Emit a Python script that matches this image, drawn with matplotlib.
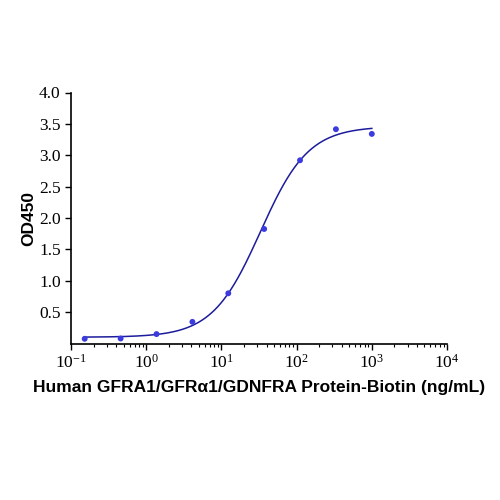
import numpy as np
import matplotlib
matplotlib.use("Agg")
import matplotlib.pyplot as plt
from matplotlib.ticker import LogLocator, FixedLocator, FormatStrFormatter

plt.rcParams['mathtext.fontset'] = 'custom'
plt.rcParams['mathtext.rm'] = 'Liberation Serif'
plt.rcParams['mathtext.it'] = 'Liberation Serif:italic'
plt.rcParams['mathtext.bf'] = 'Liberation Serif:bold'
plt.rcParams['axes.unicode_minus'] = False

# Data
conc = [0.152, 0.457, 1.372, 4.115, 12.35, 37.04, 111.1, 333.3, 1000.0]
od450 = [0.075, 0.08, 0.15, 0.345, 0.80, 1.825, 2.92, 3.415, 3.34]

# 4PL fit parameters
fit_bottom = 0.10
fit_top = 3.46
fit_ec50 = 33.0
fit_hill = 1.36

xlabel = "Human GFRA1/GFR\u03b11/GDNFRA Protein-Biotin (ng/mL)"
ylabel = "OD450"
yticks = [0.5, 1.0, 1.5, 2.0, 2.5, 3.0, 3.5, 4.0]

fig = plt.figure(figsize=(5, 5), dpi=100)
ax = fig.add_axes([0.142, 0.313, 0.752, 0.502])

xs = np.logspace(np.log10(conc[0]), np.log10(conc[-1]), 400)
ys = fit_bottom + (fit_top - fit_bottom) / (1 + (fit_ec50 / xs) ** fit_hill)
ax.plot(xs, ys, color='#1c1c9c', lw=1.1, zorder=2)
ax.scatter(conc, od450, s=18, color='#3b3be0', zorder=3, edgecolors='none')

ax.set_xscale('log')
ax.set_xlim(0.1, 1e4)
ax.set_ylim(0, 4.0)
ax.yaxis.set_major_locator(FixedLocator(yticks))
ax.yaxis.set_major_formatter(FormatStrFormatter('%.1f'))
ax.xaxis.set_major_locator(LogLocator(base=10, numticks=10))
ax.xaxis.set_minor_locator(LogLocator(base=10, subs=np.arange(2, 10), numticks=20))

for s in ['top', 'right']:
    ax.spines[s].set_visible(False)
for s in ['left', 'bottom']:
    ax.spines[s].set_linewidth(1.2)

ax.tick_params(axis='both', which='major', direction='out', length=4, width=1.0,
               labelsize=12.5, colors='black')
ax.tick_params(axis='x', which='minor', direction='out', length=2.5, width=0.8)
for lab in ax.get_yticklabels():
    lab.set_family('Liberation Serif')
for lab in ax.get_xticklabels():
    lab.set_family('Liberation Serif')

ax.set_xlabel(xlabel, fontsize=12.5, fontweight='bold', family='Liberation Sans', labelpad=6)
ax.set_ylabel(ylabel, fontsize=12.5, fontweight='bold', family='Liberation Sans', labelpad=2)

fig.savefig('out.png', dpi=100)
